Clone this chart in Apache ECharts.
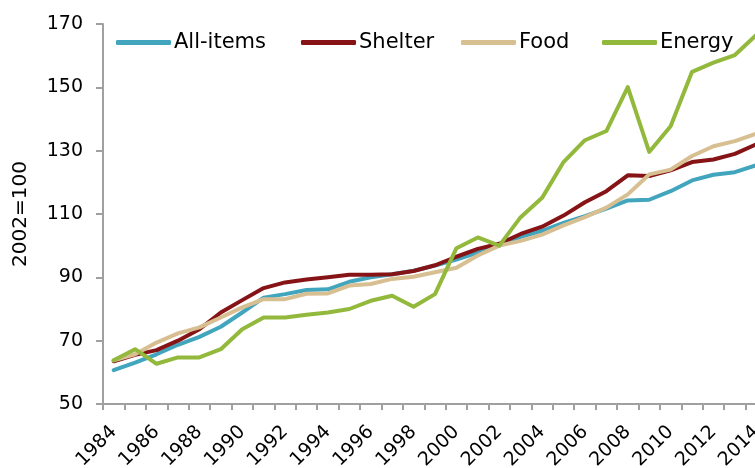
<!DOCTYPE html>
<html>
<head>
<meta charset="utf-8">
<script src="https://cdn.jsdelivr.net/npm/echarts@6/dist/echarts.min.js"></script>
<style>html,body{margin:0;padding:0;background:#fff}#c{width:755px;height:468px}</style>
</head>
<body>
<div id="c"></div>
<script>
var years = ['1984','1985','1986','1987','1988','1989','1990','1991','1992','1993','1994','1995','1996','1997','1998','1999','2000','2001','2002','2003','2004','2005','2006','2007','2008','2009','2010','2011','2012','2013','2014'];
var allItems = [60.7, 63.1, 65.7, 68.7, 71.2, 74.4, 78.9, 83.6, 84.7, 86.0, 86.2, 88.6, 90.0, 91.0, 92.1, 93.7, 95.6, 97.8, 100.0, 102.8, 104.7, 107.2, 109.3, 111.7, 114.3, 114.5, 117.2, 120.6, 122.4, 123.2, 125.4];
var shelter = [63.5, 65.5, 67.0, 70.0, 73.6, 78.9, 82.8, 86.6, 88.4, 89.3, 90.0, 90.8, 90.8, 91.0, 92.0, 93.8, 96.5, 99.0, 100.6, 103.7, 106.0, 109.5, 113.7, 117.2, 122.2, 122.0, 123.8, 126.4, 127.2, 129.0, 132.0];
var food = [63.8, 65.7, 69.4, 72.3, 74.2, 77.3, 80.5, 83.1, 83.1, 84.8, 84.9, 87.4, 87.9, 89.5, 90.2, 91.6, 93.0, 96.9, 100.0, 101.5, 103.5, 106.4, 109.0, 112.0, 116.2, 122.5, 124.0, 128.3, 131.4, 133.0, 135.4];
var energy = [63.8, 67.3, 62.7, 64.7, 64.7, 67.3, 73.6, 77.3, 77.3, 78.2, 78.9, 80.0, 82.6, 84.2, 80.7, 84.7, 99.2, 102.6, 100.0, 109.0, 115.1, 126.4, 133.3, 136.2, 150.1, 129.6, 137.7, 154.9, 157.8, 160.2, 166.5];
var seriesNames = ['All-items', 'Shelter', 'Food', 'Energy'];
var yTicks = {min: 50, max: 170, interval: 20};

var FONT = 'DejaVu Sans';
var colors = ['#41A5BE', '#861416', '#D8BF92', '#93B93C'];
var legendLeft = [111, 296, 456, 597];
function mk(name, data, color) {
  return {name: name, type: 'line', data: data, symbol: 'none', smooth: false,
    lineStyle: {width: 4, color: color, cap: 'round', join: 'round'}, itemStyle: {color: color}};
}
var legends = seriesNames.map(function (n, i) {
  return {
    top: 27, left: legendLeft[i], itemWidth: 55, itemHeight: 5, icon: 'roundRect', itemGap: 0,
    textStyle: {fontFamily: FONT, fontSize: 21, color: '#000', padding: [0, 0, 0, -2]},
    data: [n]
  };
});
var chart = echarts.init(document.getElementById('c'), null, {renderer: 'canvas'});
chart.setOption({
  animation: false,
  backgroundColor: '#fff',
  color: colors,
  grid: {left: 103, width: 664, top: 24, height: 380, containLabel: false, outerBoundsMode: 'none'},
  legend: legends,
  xAxis: {
    type: 'category', data: years, boundaryGap: true,
    axisLine: {lineStyle: {color: '#A0A0A0', width: 2}},
    axisTick: {show: true, interval: 0, length: 6, lineStyle: {color: '#A0A0A0', width: 2}},
    axisLabel: {interval: 1, rotate: 45, margin: 25, fontFamily: FONT, fontSize: 19, color: '#000'},
    splitLine: {show: false}
  },
  yAxis: {
    type: 'value', min: yTicks.min, max: yTicks.max, interval: yTicks.interval,
    name: '2002=100', nameLocation: 'middle', nameGap: 72,
    nameTextStyle: {fontFamily: FONT, fontSize: 20, color: '#000'},
    axisLine: {show: true, lineStyle: {color: '#A0A0A0', width: 2}},
    axisTick: {show: true, length: 7, lineStyle: {color: '#A0A0A0', width: 2}},
    axisLabel: {margin: 20, fontFamily: FONT, fontSize: 19, color: '#000'},
    splitLine: {show: false}
  },
  series: [
    mk(seriesNames[0], allItems, colors[0]),
    mk(seriesNames[1], shelter, colors[1]),
    mk(seriesNames[2], food, colors[2]),
    mk(seriesNames[3], energy, colors[3])
  ]
});
</script>
</body>
</html>
